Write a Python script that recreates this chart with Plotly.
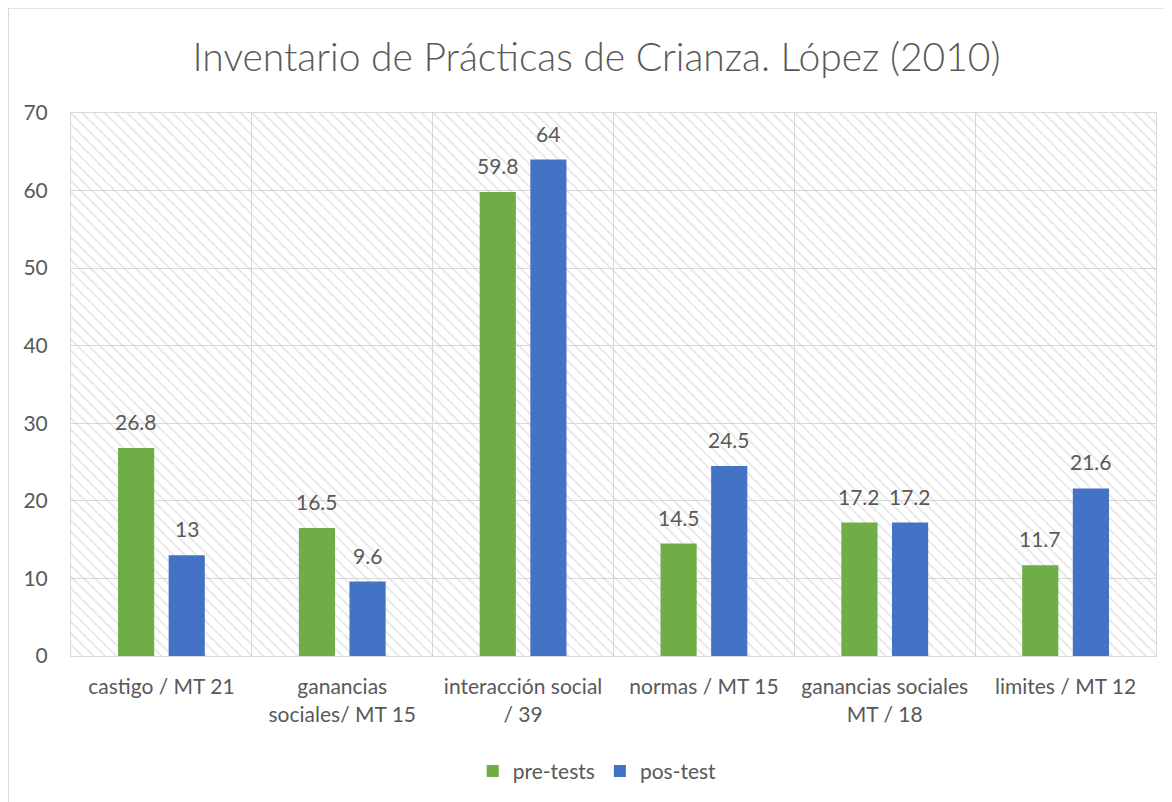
import plotly.graph_objects as go

categories = ["castigo / MT 21", "ganancias<br>sociales/ MT 15", "interacción social<br>/ 39",
              "normas / MT 15", "ganancias sociales<br>MT / 18", "limites / MT 12"]
pre_tests = [26.8, 16.5, 59.8, 14.5, 17.2, 11.7]
pos_test = [13, 9.6, 64, 24.5, 17.2, 21.6]
y_ticks = [0, 10, 20, 30, 40, 50, 60, 70]
Y_MAX = 70

GREEN = "#70AD47"
BLUE = "#4472C4"
TXT = "#595959"
GRID = "#D9D9D9"
FONT = "Lato"
FS = 21

BAR_W = 0.2
OFF_PRE = -0.24
OFF_POS = 0.04

fig = go.Figure()

# hatched plot-area background
fig.add_trace(go.Bar(
    x=[categories[0]], y=[Y_MAX], offset=-0.5, width=len(categories),
    marker=dict(color="rgba(0,0,0,0)", line=dict(width=0),
                pattern=dict(shape="\\", fgcolor="#CACACA", bgcolor="rgba(0,0,0,0)",
                             size=8, solidity=0.2, fillmode="overlay")),
    showlegend=False, hoverinfo="skip"))

fig.add_trace(go.Bar(x=categories, y=pre_tests, name="pre-tests", offset=OFF_PRE, width=BAR_W,
                     marker=dict(color=GREEN, line=dict(width=0))))
fig.add_trace(go.Bar(x=categories, y=pos_test, name="pos-test", offset=OFF_POS, width=BAR_W,
                     marker=dict(color=BLUE, line=dict(width=0))))

annotations = []
for i, (a, b) in enumerate(zip(pre_tests, pos_test)):
    for val, off in ((a, OFF_PRE), (b, OFF_POS)):
        annotations.append(dict(x=i + off + BAR_W / 2, y=val, xref="x", yref="y",
                                text=f"{val:g}", showarrow=False, yanchor="bottom",
                                yshift=12, font=dict(family=FONT, size=FS, color=TXT)))

# outer chart border (bottom edge lies outside the visible page)
shapes = [dict(type="rect", xref="paper", yref="paper", x0=-0.0576, x1=1.0138, y0=-0.32, y1=1.193,
               line=dict(color=GRID, width=1), fillcolor="rgba(0,0,0,0)", layer="below")]

fig.update_layout(
    width=1164, height=794,
    margin=dict(l=63, r=16, t=105, b=145),
    paper_bgcolor="white", plot_bgcolor="white",
    barmode="overlay",
    title=dict(text="Inventario de Prácticas de Crianza. López (2010)",
               x=(596.5 - 8) / 1164, xref="container", xanchor="center",
               y=1 - (57 - 8) / 794, yref="container", yanchor="middle",
               font=dict(family=FONT, size=39, color=TXT, weight=300)),
    font=dict(family=FONT, size=FS, color=TXT),
    legend=dict(orientation="h", x=0.485, xanchor="center", y=-0.21, yanchor="middle",
                font=dict(family=FONT, size=FS, color=TXT), itemwidth=30,
                traceorder="normal"),
    annotations=annotations,
    shapes=shapes,
    hovermode=False,
)

fig.update_xaxes(type="category", categoryorder="array", categoryarray=categories,
                 tickson="boundaries", showgrid=True, gridcolor=GRID, gridwidth=1,
                 showline=True, linecolor=GRID, linewidth=1, mirror=True,
                 ticks="", ticklabelstandoff=12, range=[-0.5, len(categories) - 0.5],
                 tickfont=dict(family=FONT, size=FS, color=TXT))
fig.update_yaxes(range=[0, Y_MAX], tickvals=y_ticks, showgrid=True, gridcolor=GRID, gridwidth=1,
                 showline=True, linecolor=GRID, linewidth=1, mirror=True, zeroline=False,
                 ticks="", ticklabelstandoff=18,
                 tickfont=dict(family=FONT, size=FS, color=TXT))

fig.write_html("out.html")
